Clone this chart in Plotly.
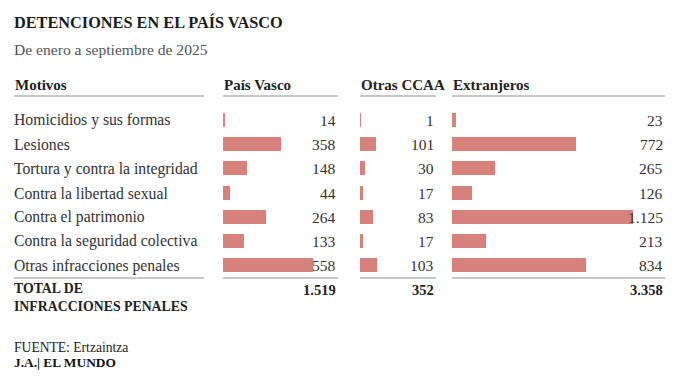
import plotly.graph_objects as go

# ---------------- data ----------------
motivos = [
    "Homicidios y sus formas",
    "Lesiones",
    "Tortura y contra la integridad",
    "Contra la libertad sexual",
    "Contra el patrimonio",
    "Contra la seguridad colectiva",
    "Otras infracciones penales",
]
pais_vasco = [14, 358, 148, 44, 264, 133, 558]
otras_ccaa = [1, 101, 30, 17, 83, 17, 103]
extranjeros = [23, 772, 265, 126, 1125, 213, 834]
column_titles = ["Motivos", "País Vasco", "Otras CCAA", "Extranjeros"]

title = "DETENCIONES EN EL PAÍS VASCO"
subtitle = "De enero a septiembre de 2025"
total_label = "TOTAL DE<br>INFRACCIONES PENALES"
source = "FUENTE: Ertzaintza"
credit = "<b>J.A.| EL MUNDO</b>"

# ---------------- layout helpers ----------------
W, H = 695, 382
FONT = "Liberation Serif"
BAR = "#d6817c"
LINE = "#b4b4b4"
TXT = "#333333"
PX_PER_UNIT = 0.1612  # common scale for all three columns
LEFT = 12


def px(x):
    return x / W


def py(y):
    return 1 - y / H


def fmt(n):
    return f"{n:,}".replace(",", ".")


cols = [  # (values, left px, right px, axis)
    (pais_vasco, 223, 338, "x"),
    (otras_ccaa, 360, 436, "x2"),
    (extranjeros, 452, 665, "x3"),
]

rows = list(range(len(motivos)))
fig = go.Figure()

for vals, l, r, ax in cols:
    fig.add_trace(go.Bar(
        x=vals, y=rows, orientation="h", xaxis=ax, yaxis="y",
        marker=dict(color=BAR, line=dict(width=0)), width=0.58,
        hoverinfo="skip", showlegend=False,
    ))

layout_axes = {}
for i, (vals, l, r, ax) in enumerate(cols):
    name = "xaxis" if ax == "x" else "xaxis" + ax[1:]
    layout_axes[name] = dict(
        domain=[px(l), px(r)], range=[0, (r - l) / PX_PER_UNIT],
        visible=False, fixedrange=True, anchor="y",
    )

annotations = []
shapes = []

# title / subtitle
annotations.append(dict(text=f"<b>{title}</b>", x=px(LEFT), y=py(23), xref="paper", yref="paper",
                        xanchor="left", yanchor="middle", showarrow=False,
                        font=dict(family=FONT, size=16.3, color="#1a1a1a")))
annotations.append(dict(text=subtitle, x=px(LEFT), y=py(50), xref="paper", yref="paper",
                        xanchor="left", yanchor="middle", showarrow=False,
                        font=dict(family=FONT, size=15.6, color="#555555")))

# column headers + lines
col_bounds = [(14, 204)] + [(l, r) for _, l, r, _ in cols]
for t, (l, r) in zip(column_titles, col_bounds):
    annotations.append(dict(text=f"<b>{t}</b>", x=px(l - 1), y=py(85), xref="paper", yref="paper",
                            xanchor="left", yanchor="middle", showarrow=False,
                            font=dict(family=FONT, size=15, color="#222222")))
    for yy in (96, 278):
        shapes.append(dict(type="line", xref="paper", yref="paper",
                           x0=px(l), x1=px(r), y0=py(yy), y1=py(yy),
                           line=dict(color=LINE, width=1.5)))

# row labels
for i, m in enumerate(motivos):
    annotations.append(dict(text=m, x=px(LEFT), y=i, xref="paper", yref="y",
                            xanchor="left", yanchor="middle", showarrow=False,
                            font=dict(family=FONT, size=15.7, color=TXT)))

# values
for vals, l, r, ax in cols:
    for i, v in enumerate(vals):
        annotations.append(dict(text=fmt(v), x=1, y=i, xref=f"{ax} domain", yref="y",
                                xanchor="right", yanchor="middle", showarrow=False,
                                font=dict(family=FONT, size=15.5, color=TXT)))
    annotations.append(dict(text=f"<b>{fmt(sum(vals))}</b>", x=1, y=py(290),
                            xref=f"{ax} domain", yref="paper",
                            xanchor="right", yanchor="middle", showarrow=False,
                            font=dict(family=FONT, size=14.5, color="#222222")))

# total label
annotations.append(dict(text=f"<b>{total_label}</b>", x=px(LEFT), y=py(297.5), xref="paper", yref="paper",
                        xanchor="left", yanchor="middle", showarrow=False, align="left",
                        font=dict(family=FONT, size=13.8, color="#222222")))

# footer
annotations.append(dict(text=source, x=px(LEFT), y=py(347.5), xref="paper", yref="paper",
                        xanchor="left", yanchor="middle", showarrow=False,
                        font=dict(family=FONT, size=13.6, color="#222222")))
annotations.append(dict(text=credit, x=px(LEFT), y=py(362.5), xref="paper", yref="paper",
                        xanchor="left", yanchor="middle", showarrow=False,
                        font=dict(family=FONT, size=13.4, color="#111111")))

fig.update_layout(
    width=W, height=H,
    margin=dict(l=0, r=0, t=0, b=0),
    paper_bgcolor="white", plot_bgcolor="white",
    yaxis=dict(domain=[py(277.6), py(108.4)], range=[6.5, -0.5],
               visible=False, fixedrange=True),
    annotations=annotations, shapes=shapes,
    bargap=0, barmode="overlay",
    **layout_axes,
)

fig.write_html("out.html", config={"displayModeBar": False},
               post_script="document.body.style.margin='0';document.body.style.overflow='hidden';")
